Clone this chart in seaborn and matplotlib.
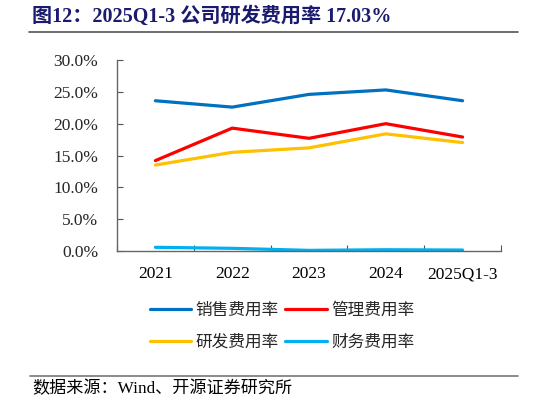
import matplotlib
matplotlib.use("Agg")
import matplotlib.pyplot as plt
import seaborn as sns
import pandas as pd
from matplotlib.lines import Line2D
from matplotlib.ticker import FuncFormatter

categories = ["2021", "2022", "2023", "2024", "2025Q1-3"]
series_names = ["销售费用率", "管理费用率", "研发费用率", "财务费用率"]
sales = [23.6, 22.6, 24.6, 25.3, 23.6]
admin = [14.2, 19.3, 17.7, 20.0, 17.9]
rnd = [13.5, 15.5, 16.2, 18.4, 17.03]
finance = [0.58, 0.42, 0.10, 0.20, 0.15]
colors = ["#0070C0", "#FF0000", "#FFC000", "#00B0F0"]
yticks = [0, 5, 10, 15, 20, 25, 30]

sns.set_theme(style="white")
plt.rcParams['font.family'] = ['Liberation Serif', 'Noto Sans CJK SC', 'DejaVu Sans']

df = pd.DataFrame({
    "year": categories * 4,
    "series": sum([[n] * 5 for n in series_names], []),
    "value": sales + admin + rnd + finance,
})

fig = plt.figure(figsize=(5.46, 4.05), dpi=100)
ax = fig.add_axes([117/546, 1-251/405, (501-117)/546, (251-60)/405])
sns.lineplot(data=df, x="year", y="value", hue="series", palette=colors,
             hue_order=series_names, sort=False, linewidth=2.3, ax=ax, legend=False)

ax.set_xlim(-0.5, 4.5)
ax.set_ylim(0, 30)
ax.set_yticks(yticks)
ax.yaxis.set_major_formatter(FuncFormatter(lambda v, p: f"{v:.1f}%"))
ax.set_xticks(range(len(categories)))
ax.set_xticklabels(categories)
ax.set_xticks([i - 0.5 for i in range(len(categories) + 1)], minor=True)
ax.tick_params(axis='x', which='major', length=0, pad=11, labelsize=12.5, colors='black')
ax.tick_params(axis='x', which='minor', direction='in', length=4, color='#555555', width=0.8, bottom=True)
ax.tick_params(axis='y', direction='in', length=4, color='#555555', width=0.8, left=True,
               labelsize=12.5, pad=13.5)
for lab in ax.get_xticklabels() + ax.get_yticklabels():
    lab.set_fontfamily(['Liberation Serif'])
ax.set_xlabel("")
ax.set_ylabel("")
ax.spines["top"].set_visible(False)
ax.spines["right"].set_visible(False)
for s in ["left", "bottom"]:
    ax.spines[s].set_color("#666666")
    ax.spines[s].set_linewidth(1.0)
ax.grid(False)

# legend: row 1 = 销售, 管理 ; row 2 = 研发, 财务 (matplotlib fills by column)
order = [0, 2, 1, 3]
handles = [Line2D([0], [0], color=colors[i], lw=2.3) for i in order]
labels = [series_names[i] for i in order]
fig.legend(handles, labels, loc="center", bbox_to_anchor=(282/546, 1-326/405), ncol=2,
           frameon=False, handlelength=2.5, columnspacing=0.4,
           handletextpad=0.25, labelspacing=0.9,
           prop={'family': ['Noto Sans CJK SC'], 'size': 12})

fig.text(32/546, 1-17/405, "图12：2025Q1-3 公司研发费用率 17.03%", fontsize=14.5, fontweight='bold',
         color='#1A1A6E', va='center', ha='left', family=['Liberation Serif', 'Noto Sans CJK SC'])
fig.add_artist(Line2D([29/546, 518/546], [1-31.5/405, 1-31.5/405], color='#555555', lw=1.2))
fig.add_artist(Line2D([30/546, 518/546], [1-375.5/405, 1-375.5/405], color='#777777', lw=1.2))
fig.text(32/546, 1-389/405, "数据来源：Wind、开源证券研究所", fontsize=12.3, color='black',
         va='center', ha='left', family=['Liberation Serif', 'Noto Sans CJK SC'])

fig.savefig("out.png", dpi=100)
